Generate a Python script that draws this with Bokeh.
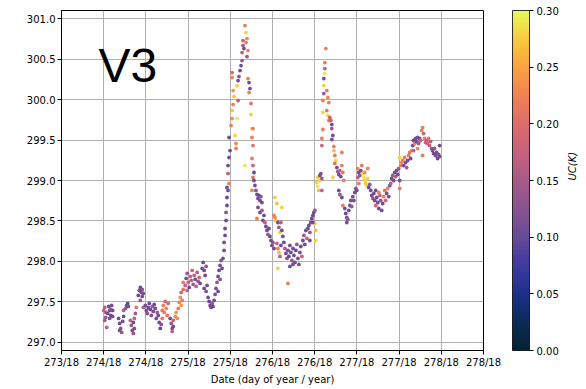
import numpy as np
from bokeh.plotting import figure
from bokeh.models import (ColumnDataSource, LinearColorMapper, ColorBar, FixedTicker,
                          PrintfTickFormatter, Label, Range1d, LinearAxis)
from bokeh.embed import file_html
from bokeh.resources import INLINE

# ---------------- data ----------------
day = [
    274.000, 274.012, 274.024, 274.024, 274.035, 274.012, 274.047, 274.059, 274.071, 274.083, 274.094, 274.106, 274.083, 274.106, 274.071,
    274.177, 274.189, 274.201, 274.213, 274.189, 274.225, 274.236, 274.236, 274.258, 274.272, 274.284, 274.292,
    274.316, 274.327, 274.339, 274.351, 274.363, 274.363, 274.375, 274.386, 274.351,
    274.410, 274.422, 274.434, 274.446, 274.457, 274.457, 274.469, 274.469, 274.434,
    274.493, 274.505, 274.516, 274.528, 274.540, 274.552, 274.564, 274.576, 274.587, 274.599, 274.611, 274.623, 274.635,
    274.647, 274.658, 274.670, 274.682, 274.694, 274.706, 274.718, 274.729, 274.741, 274.753, 274.765, 274.694,
    274.788, 274.800, 274.812, 274.812, 274.824, 274.824,
    274.847, 274.859, 274.871, 274.883, 274.895, 274.907, 274.918, 274.930, 274.942, 274.918, 274.942,
    274.966, 274.977, 274.989, 275.001, 275.013, 275.025, 275.037, 275.048, 275.060, 275.072, 275.084, 275.096, 275.107, 275.119, 275.131, 275.143, 274.989,
    275.166, 275.178, 275.190, 275.202, 275.214, 275.190, 275.214, 275.225,
    275.237, 275.249, 275.261, 275.273, 275.284, 275.296, 275.308, 275.320,
    275.331, 275.343, 275.355, 275.367, 275.379, 275.391, 275.402, 275.414, 275.355, 275.379,
    275.426, 275.426, 275.438, 275.438, 275.450, 275.450, 275.461, 275.461, 275.473, 275.461, 275.485, 275.473, 275.473, 275.485, 275.497, 275.485,
    275.509, 275.521, 275.521, 275.533, 275.533, 275.521, 275.521, 275.545, 275.556, 275.568, 275.568, 275.580, 275.580, 275.592, 275.592, 275.603,
    275.615, 275.627, 275.639, 275.639, 275.651, 275.651, 275.662, 275.674, 275.686, 275.686, 275.698, 275.710, 275.698, 275.710, 275.722, 275.733,
    275.722, 275.745, 275.745, 275.757, 275.769, 275.757, 275.769, 275.674, 275.757, 275.769, 275.780, 275.769,
    275.780, 275.792, 275.804, 275.757, 275.816, 275.828, 275.840, 275.852, 275.863, 275.875, 275.828, 275.852, 275.875, 275.899, 275.816, 275.887,
    275.911, 275.922, 275.934, 275.946, 275.958, 275.970, 275.982, 275.993, 276.005, 276.017, 276.029, 276.052, 276.111, 276.017, 276.040, 276.029,
    276.064, 276.076, 276.088, 276.100, 276.111, 276.123, 276.052, 276.064, 276.076, 276.088, 276.100, 276.064, 276.135, 276.147, 276.159, 276.171,
    276.183, 276.183, 276.194, 276.206, 276.218, 276.230, 276.242, 276.254, 276.266, 276.277, 276.289, 276.301, 276.313, 276.324, 276.336, 276.348,
    276.242, 276.206,
    276.360, 276.372, 276.383, 276.395, 276.407, 276.419, 276.431, 276.443, 276.454, 276.466, 276.478, 276.490, 276.502, 276.502, 276.513, 276.513,
    276.478, 276.443,
    276.525, 276.537, 276.537, 276.549, 276.561, 276.561, 276.573, 276.585, 276.585,
    276.585, 276.585, 276.597, 276.597, 276.597, 276.608, 276.608, 276.608, 276.620, 276.620, 276.620, 276.632, 276.644, 276.656, 276.668, 276.644,
    276.656, 276.668, 276.680, 276.691, 276.703, 276.703, 276.715, 276.703, 276.727, 276.727, 276.739, 276.751, 276.739, 276.822, 276.715,
    276.763, 276.774, 276.786, 276.798, 276.810, 276.822, 276.833, 276.845, 276.786, 276.798, 276.822, 276.833, 276.857, 276.868, 276.880, 276.880,
    276.892, 276.904,
    276.916, 276.928, 276.939, 276.951, 276.963, 276.975, 276.987, 276.999, 277.010, 277.022, 277.034, 277.046, 277.058, 277.010, 277.022,
    277.070, 277.082, 277.093, 277.105, 277.117, 277.129, 277.140, 277.152, 277.093, 277.129,
    277.164, 277.176, 277.188, 277.200, 277.211, 277.223, 277.235, 277.247, 277.259, 277.271, 277.282, 277.294, 277.306, 277.318, 277.330, 277.341,
    277.353, 277.365, 277.377, 277.389, 277.223, 277.259,
    277.401, 277.412, 277.424, 277.436, 277.448, 277.460, 277.471, 277.483, 277.495, 277.507, 277.507, 277.507, 277.519, 277.530,
    277.542, 277.554, 277.566, 277.578, 277.590, 277.601, 277.613, 277.625, 277.637, 277.649,
    277.661, 277.672, 277.684, 277.696, 277.708, 277.720, 277.731, 277.743, 277.755, 277.767, 277.779, 277.790, 277.802, 277.779, 277.814, 277.826,
    277.838, 277.849, 277.861, 277.873, 277.885, 277.897, 277.908, 277.920, 277.932, 277.944, 277.956, 277.968, 277.980, 277.980, 277.720, 277.672,
]

temp = [
    297.395, 297.432, 297.370, 297.309, 297.185, 297.272, 297.358, 297.444, 297.395, 297.333, 297.457, 297.395, 297.407, 297.321, 297.296,
    297.296, 297.235, 297.173, 297.123, 297.148, 297.259, 297.321, 297.395, 297.420, 297.457, 297.481, 297.444,
    297.272, 297.210, 297.148, 297.111, 297.173, 297.296, 297.358, 297.432, 297.247,
    297.580, 297.642, 297.679, 297.617, 297.654, 297.568, 297.605, 297.432, 297.519,
    297.457, 297.395, 297.358, 297.432, 297.481, 297.407, 297.333, 297.444, 297.383, 297.469, 297.420, 297.296, 297.370,
    297.333, 297.247, 297.173, 297.222, 297.395, 297.457, 297.370, 297.506, 297.420, 297.333, 297.481, 297.296,
    297.296, 297.235, 297.173, 297.136, 297.198, 297.272,
    297.321, 297.370, 297.296, 297.420, 297.494, 297.556, 297.617, 297.519, 297.654, 297.457, 297.741,
    297.704, 297.790, 297.852, 297.741, 297.679, 297.815, 297.765, 297.889, 297.716, 297.827, 297.778, 297.691, 297.864, 297.753, 297.802, 297.728, 297.642,
    297.914, 297.988, 297.889, 297.827, 297.938, 297.667, 297.630, 297.704,
    297.556, 297.506, 297.457, 297.432, 297.481, 297.444, 297.519, 297.593,
    297.667, 297.741, 297.815, 297.889, 297.951, 298.012, 297.914, 298.037, 297.630, 297.778,
    298.136, 298.235, 298.321, 298.407, 298.506, 298.605, 298.691, 298.790, 298.877, 298.914, 298.963, 299.086, 299.185, 299.284, 299.370, 299.531,
    299.679, 299.765, 299.864, 299.938, 300.111, 300.272, 300.333, 300.037, 299.556, 299.457, 299.395, 299.765, 300.173, 299.988, 300.235, 300.284,
    300.358, 300.420, 300.481, 300.580, 300.667, 300.728, 300.630, 300.914, 300.827, 300.704, 300.753, 300.605, 300.531, 300.259, 300.210, 300.136,
    300.086, 299.951, 299.815, 299.642, 299.642, 299.531, 299.432, 299.185, 299.272, 299.185, 299.099, 299.037,
    299.000, 298.938, 298.877, 298.877, 298.827, 298.778, 298.815, 298.753, 298.802, 298.728, 298.667, 298.605, 298.630, 298.568, 298.531, 298.506,
    298.481, 298.432, 298.383, 298.333, 298.407, 298.309, 298.259, 298.198, 298.235, 298.160, 298.790, 298.716, 298.667, 298.568, 298.506, 298.543,
    298.481, 298.420, 298.358, 298.481, 298.383, 298.309, 298.222, 298.160, 298.111, 298.062, 298.198, 297.914, 298.235, 298.160, 298.099, 298.037,
    298.136, 297.728, 298.062, 298.198, 298.111, 298.012, 298.160, 298.074, 297.988, 298.136, 298.210, 298.037, 297.963, 298.111, 298.185, 298.062,
    297.963, 297.938,
    298.259, 298.321, 298.210, 298.383, 298.284, 298.407, 298.444, 298.358, 298.481, 298.531, 298.568, 298.605, 298.630, 298.469, 298.383, 298.259,
    298.481, 298.259,
    298.975, 298.926, 299.037, 298.877, 299.000, 299.062, 299.086, 299.025, 298.877,
    299.432, 299.519, 299.630, 299.840, 299.988, 300.074, 300.173, 300.259, 300.321, 300.383, 300.457, 300.630, 300.111, 300.025, 299.963, 299.864,
    299.802, 299.741, 299.778, 299.741, 299.691, 299.642, 299.556, 299.506, 299.420, 299.370, 299.309, 299.247, 299.210, 299.346, 299.037,
    299.160, 299.111, 299.074, 299.123, 299.049, 299.185, 299.099, 299.000, 298.877, 298.827, 298.790, 298.691, 298.654, 298.593, 298.543, 298.481,
    298.519, 298.630,
    298.691, 298.753, 298.679, 298.802, 298.753, 298.852, 298.901, 298.877, 299.037, 299.099, 299.062, 299.123, 299.185, 299.148, 298.963,
    299.086, 299.037, 299.000, 298.963, 298.938, 299.025, 298.914, 298.951, 299.099, 299.148,
    298.877, 298.815, 298.778, 298.840, 298.753, 298.691, 298.790, 298.728, 298.654, 298.815, 298.753, 298.630, 298.716, 298.802, 298.877, 298.753,
    298.840, 298.901, 298.802, 298.938, 298.877, 298.852,
    298.963, 299.025, 299.062, 299.000, 299.099, 299.049, 299.123, 299.074, 299.148, 298.901, 299.284, 299.000, 299.185, 299.222,
    299.247, 299.185, 299.284, 299.222, 299.160, 299.247, 299.309, 299.346, 299.272, 299.370,
    299.432, 299.494, 299.457, 299.519, 299.481, 299.531, 299.457, 299.519, 299.494, 299.617, 299.654, 299.580, 299.519, 299.309, 299.469, 299.494,
    299.457, 299.519, 299.432, 299.481, 299.395, 299.370, 299.333, 299.395, 299.309, 299.346, 299.272, 299.321, 299.432, 299.296, 299.395, 299.370,
]

uc = [
    0.17, 0.17, 0.16, 0.14, 0.17, 0.15, 0.11, 0.11, 0.10, 0.11, 0.11, 0.10, 0.13, 0.11, 0.12,
    0.11, 0.11, 0.13, 0.14, 0.12, 0.11, 0.11, 0.16, 0.14, 0.11, 0.10, 0.11,
    0.17, 0.14, 0.11, 0.14, 0.12, 0.17, 0.15, 0.21, 0.11,
    0.11, 0.11, 0.10, 0.11, 0.13, 0.11, 0.12, 0.17, 0.14,
    0.11, 0.11, 0.13, 0.11, 0.11, 0.10, 0.12, 0.14, 0.11, 0.11, 0.11, 0.11, 0.14,
    0.11, 0.11, 0.10, 0.13, 0.21, 0.22, 0.22, 0.18, 0.23, 0.21, 0.19, 0.22,
    0.11, 0.14, 0.11, 0.17, 0.11, 0.18,
    0.23, 0.24, 0.23, 0.22, 0.22, 0.23, 0.19, 0.22, 0.21, 0.24, 0.22,
    0.17, 0.11, 0.14, 0.18, 0.11, 0.17, 0.16, 0.18, 0.14, 0.17, 0.11, 0.17, 0.16, 0.14, 0.18, 0.11, 0.17,
    0.11, 0.10, 0.11, 0.11, 0.13, 0.11, 0.12, 0.11,
    0.11, 0.10, 0.11, 0.11, 0.13, 0.11, 0.11, 0.11,
    0.11, 0.14, 0.11, 0.11, 0.11, 0.13, 0.11, 0.11, 0.11, 0.13,
    0.11, 0.11, 0.11, 0.11, 0.11, 0.13, 0.11, 0.11, 0.11, 0.11, 0.22, 0.17, 0.11, 0.11, 0.11, 0.11,
    0.22, 0.23, 0.27, 0.22, 0.24, 0.22, 0.19, 0.27, 0.28, 0.23, 0.22, 0.29, 0.28, 0.17, 0.11, 0.13,
    0.11, 0.11, 0.14, 0.17, 0.14, 0.17, 0.11, 0.22, 0.28, 0.22, 0.23, 0.22, 0.14, 0.22, 0.11, 0.11,
    0.22, 0.21, 0.28, 0.28, 0.22, 0.22, 0.21, 0.29, 0.22, 0.18, 0.11, 0.21,
    0.11, 0.11, 0.13, 0.22, 0.11, 0.11, 0.10, 0.11, 0.13, 0.11, 0.11, 0.11, 0.14, 0.11, 0.22, 0.11,
    0.17, 0.11, 0.11, 0.14, 0.11, 0.11, 0.11, 0.11, 0.13, 0.11, 0.28, 0.27, 0.28, 0.22, 0.27, 0.23,
    0.11, 0.14, 0.28, 0.17, 0.11, 0.11, 0.18, 0.22, 0.27, 0.17, 0.11, 0.28, 0.11, 0.16, 0.11, 0.14,
    0.11, 0.22, 0.10, 0.11, 0.11, 0.13, 0.11, 0.11, 0.11, 0.10, 0.14, 0.11, 0.11, 0.11, 0.11, 0.17,
    0.11, 0.11,
    0.11, 0.14, 0.11, 0.11, 0.17, 0.11, 0.11, 0.14, 0.11, 0.11, 0.11, 0.10, 0.14, 0.28, 0.27, 0.28,
    0.11, 0.11,
    0.28, 0.29, 0.28, 0.27, 0.28, 0.11, 0.12, 0.14, 0.17,
    0.18, 0.22, 0.22, 0.28, 0.22, 0.14, 0.28, 0.11, 0.29, 0.17, 0.22, 0.22, 0.22, 0.23, 0.22, 0.21,
    0.28, 0.22, 0.18, 0.17, 0.11, 0.14, 0.11, 0.11, 0.22, 0.27, 0.22, 0.28, 0.21, 0.22, 0.28,
    0.11, 0.14, 0.11, 0.17, 0.11, 0.22, 0.21, 0.22, 0.11, 0.14, 0.11, 0.22, 0.11, 0.10, 0.11, 0.11,
    0.13, 0.11,
    0.11, 0.11, 0.14, 0.11, 0.11, 0.11, 0.13, 0.11, 0.17, 0.11, 0.14, 0.11, 0.21, 0.22, 0.22,
    0.28, 0.29, 0.28, 0.27, 0.28, 0.28, 0.11, 0.13, 0.23, 0.22,
    0.11, 0.11, 0.14, 0.11, 0.11, 0.17, 0.11, 0.11, 0.11, 0.17, 0.14, 0.11, 0.11, 0.22, 0.21, 0.18,
    0.11, 0.22, 0.11, 0.11, 0.11, 0.22,
    0.17, 0.11, 0.14, 0.11, 0.11, 0.16, 0.11, 0.11, 0.14, 0.22, 0.28, 0.11, 0.22, 0.23,
    0.22, 0.11, 0.22, 0.11, 0.14, 0.11, 0.22, 0.21, 0.11, 0.22,
    0.11, 0.10, 0.22, 0.11, 0.11, 0.11, 0.14, 0.11, 0.17, 0.22, 0.22, 0.18, 0.22, 0.22, 0.17, 0.17,
    0.18, 0.21, 0.17, 0.16, 0.14, 0.11, 0.11, 0.14, 0.11, 0.11, 0.11, 0.13, 0.11, 0.11, 0.22, 0.17,
]

x_ticks = [273.5, 274.0, 274.5, 275.0, 275.5, 276.0, 276.5, 277.0, 277.5, 278.0, 278.5]
x_tick_labels = ["273/18", "274/18", "274/18", "275/18", "275/18", "276/18",
                 "276/18", "277/18", "277/18", "278/18", "278/18"]
y_ticks = [297.0, 297.5, 298.0, 298.5, 299.0, 299.5, 300.0, 300.5, 301.0]
uc_ticks = [0.00, 0.05, 0.10, 0.15, 0.20, 0.25, 0.30]

# ---------------- styling ----------------
FONT = "DejaVu Sans"

cmap_anchors = [
    (0.00, "#042333"), (0.08, "#0a2b56"), (0.16, "#1c2f85"), (0.22, "#33379b"),
    (0.28, "#4d3f9b"), (0.33, "#654a95"), (0.42, "#8a5390"), (0.50, "#a65b89"),
    (0.58, "#c5617d"), (0.67, "#de6c6a"), (0.75, "#f08255"), (0.83, "#f9a042"),
    (0.91, "#f8c63c"), (1.00, "#e8fa5b"),
]


def build_palette(anchors, n=256):
    pos = np.array([a[0] for a in anchors])
    rgb = np.array([[int(c[i:i + 2], 16) for i in (1, 3, 5)] for _, c in anchors], dtype=float)
    out = []
    for ti in np.linspace(0, 1, n):
        r, g, b = (np.interp(ti, pos, rgb[:, k]) for k in range(3))
        out.append("#%02x%02x%02x" % (int(round(r)), int(round(g)), int(round(b))))
    return out


palette = build_palette(cmap_anchors)

n = min(len(day), len(temp), len(uc))
src = ColumnDataSource(dict(day=day[:n], temp=temp[:n], uc=uc[:n]))

mapper = LinearColorMapper(palette=palette, low=uc_ticks[0], high=uc_ticks[-1])

p = figure(width=586, height=389,
           x_range=Range1d(273.5, 278.5), y_range=Range1d(296.9, 301.1),
           output_backend="svg", toolbar_location=None,
           min_border_left=61, min_border_right=102, min_border_top=10, min_border_bottom=39)

p.background_fill_color = "white"
p.border_fill_color = "white"
p.outline_line_color = "black"
p.outline_line_width = 1
p.outline_line_alpha = 1.0

p.xaxis.ticker = FixedTicker(ticks=x_ticks)
p.xaxis.major_label_overrides = {t: l for t, l in zip(x_ticks, x_tick_labels)}
p.yaxis.ticker = FixedTicker(ticks=y_ticks)
p.yaxis.formatter = PrintfTickFormatter(format="%.1f")
p.xgrid.ticker = FixedTicker(ticks=x_ticks)
p.ygrid.ticker = FixedTicker(ticks=y_ticks)
p.grid.grid_line_color = "#b0b0b0"
p.grid.grid_line_width = 1

for ax in (p.xaxis[0], p.yaxis[0]):
    ax.major_label_text_font = FONT
    ax.major_label_text_font_size = "10px"
    ax.major_label_text_color = "black"
    ax.axis_line_color = "black"
    ax.major_tick_line_color = "black"
    ax.major_tick_out = 4
    ax.major_tick_in = 0
    ax.minor_tick_line_color = None
    ax.major_label_standoff = 2

p.xaxis.axis_label = "Date (day of year / year)"
p.xaxis.axis_label_text_font = FONT
p.xaxis.axis_label_text_font_size = "10px"
p.xaxis.axis_label_text_font_style = "normal"
p.xaxis.axis_label_text_color = "black"
p.xaxis.axis_label_standoff = 3

p.scatter("day", "temp", source=src, size=3.8,
          fill_color={"field": "uc", "transform": mapper}, line_color=None)

# invisible spacer between the frame and the colour bar (transparent axis label)
spacer = LinearAxis(ticker=FixedTicker(ticks=[]), axis_line_color=None,
                    major_tick_line_color=None, minor_tick_line_color=None,
                    major_tick_out=0, major_tick_in=0, major_label_standoff=0,
                    axis_label="|", axis_label_standoff=15,
                    axis_label_text_font=FONT, axis_label_text_font_size="10px",
                    axis_label_text_alpha=0.0)
p.add_layout(spacer, "right")

cb = ColorBar(color_mapper=mapper, ticker=FixedTicker(ticks=uc_ticks),
              formatter=PrintfTickFormatter(format="%.2f"),
              width=17, height=340, padding=0, margin=0, location="top_left",
              major_label_text_font=FONT, major_label_text_font_size="10px",
              major_label_text_color="black",
              major_tick_out=4, major_tick_in=0, major_tick_line_color="black",
              minor_tick_line_color=None,
              bar_line_color="black", bar_line_width=0.8,
              label_standoff=3, background_fill_color=None, border_line_color=None)
p.add_layout(cb, "right")

uc_axis = LinearAxis(ticker=FixedTicker(ticks=[]), axis_line_color=None,
                     major_tick_line_color=None, minor_tick_line_color=None,
                     major_tick_out=0, major_tick_in=0, major_label_standoff=0,
                     axis_label="UC(K)", axis_label_standoff=11,
                     axis_label_text_font=FONT, axis_label_text_font_size="10px",
                     axis_label_text_font_style="italic", axis_label_text_color="black")
try:
    uc_axis.axis_label_orientation = float(np.pi / 2)
except Exception:
    pass
p.add_layout(uc_axis, "right")

p.add_layout(Label(x=37, y=285.5, x_units="screen", y_units="screen", text="V3",
                   text_font="Liberation Sans", text_font_size="48px",
                   text_baseline="middle", text_align="left", text_color="black"))

open("out.html", "w").write(file_html(p, INLINE))
